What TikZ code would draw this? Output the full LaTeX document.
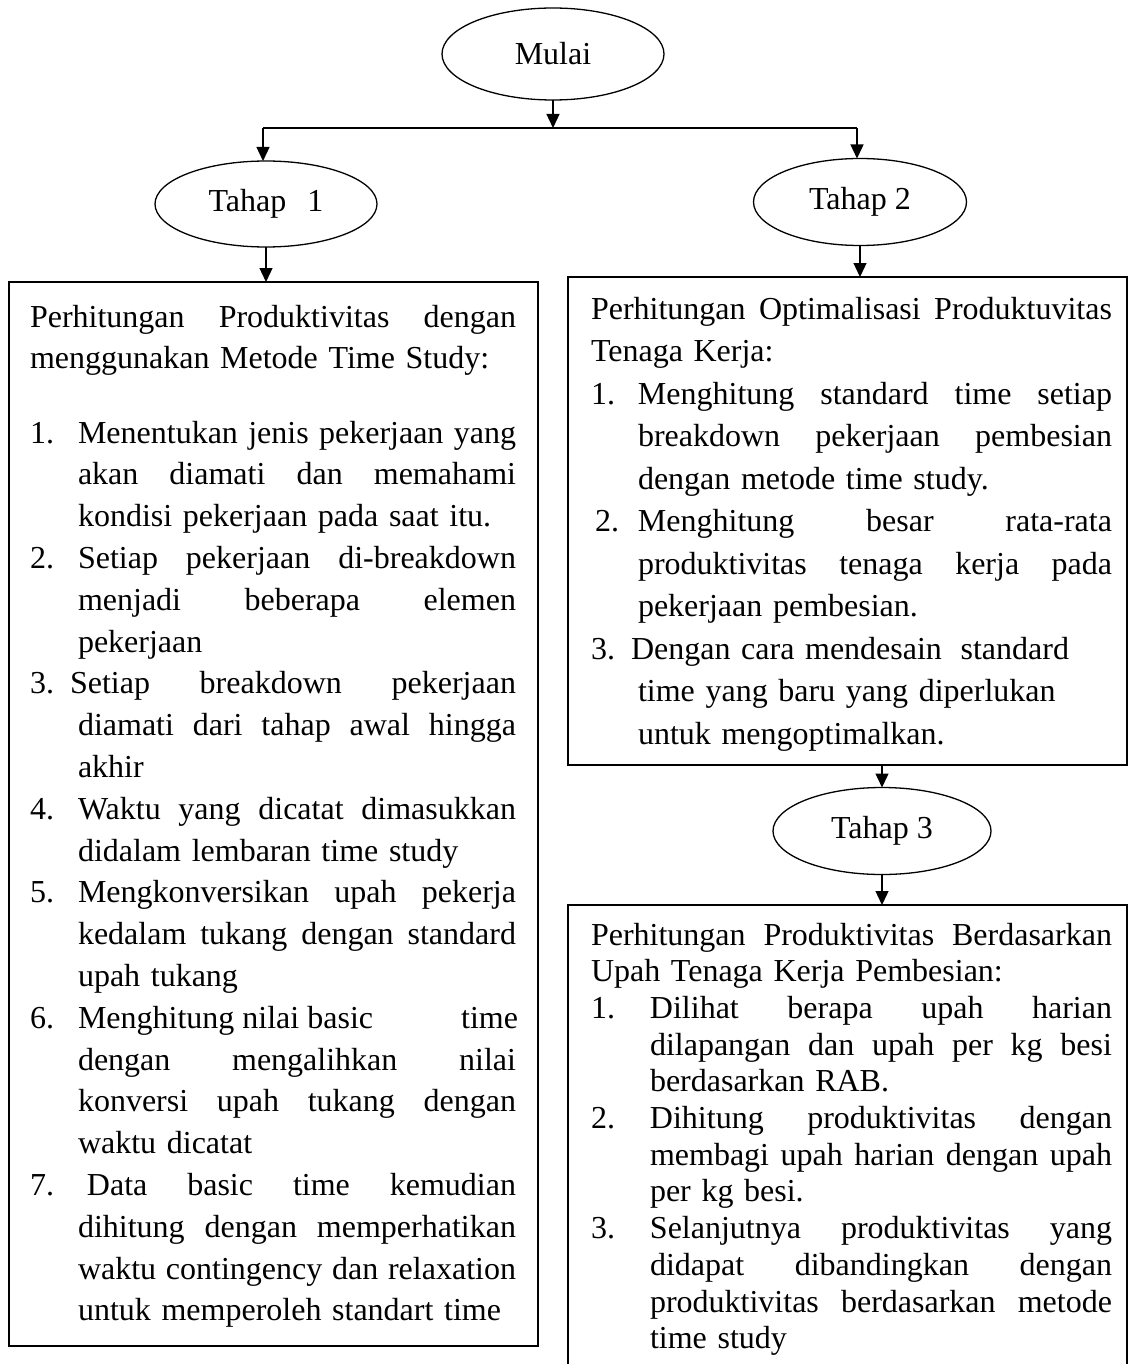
\documentclass[tikz,border=0pt]{standalone}
\usepackage{fontspec}
\setmainfont{Liberation Serif}
\usetikzlibrary{arrows.meta,shapes.geometric,fit,calc}

% justified / left lines, with and without a list number
\newcommand\myHJ[1]{\hbox to \hsize{\spaceskip=0.25em plus 1fil\relax\rule{0pt}{24pt}#1}}
\newcommand\myHL[1]{\hbox to \hsize{\rule{0pt}{24pt}#1\hss}}
\newcommand\myIJ[3]{\hbox to \hsize{\rule{0pt}{24pt}\hbox to #1{#2\hss}\hbox to \dimexpr\hsize-#1\relax{\spaceskip=0.25em plus 1fil\relax #3}}}
\newcommand\myIL[3]{\hbox to \hsize{\rule{0pt}{24pt}\hbox to #1{#2\hss}#3\hss}}

\begin{document}
\begin{tikzpicture}[x=1pt,y=-1pt,
  every node/.style={inner sep=0pt, outer sep=0pt},
  oval/.style={draw, ellipse, line width=1.3pt, font=\fontsize{32}{38}\selectfont},
  boxshape/.style={draw, line width=1.4pt, rectangle},
  txt/.style={anchor=north west, align=left,
    execute at begin node={\parindent=0pt\parskip=0pt}},
  arr/.style={line width=1.3pt, -{Triangle[length=14pt,width=13pt]}},
  plain/.style={line width=1.3pt}]
\useasboundingbox (0,0) rectangle (1135,1364);
\clip (0,0) rectangle (1135,1364);

% ellipses
\node[oval, minimum width=222pt, minimum height=92pt] (mulai) at (553,54) {Mulai};
\node[oval, minimum width=222pt, minimum height=86pt] (t1) at (266,204) {Tahap\hspace{21pt}1};
\node[oval, minimum width=213pt, minimum height=87pt] (t2) at (860,202) {Tahap 2};
\node[oval, minimum width=218pt, minimum height=87pt] (t3) at (882,831) {Tahap 3};

% boxes
\node[boxshape, fit={(9,282)(538,1346)}] (b1) {};
\node[boxshape, fit={(568,277)(1127,765)}] (b2) {};
\node[boxshape, fit={(568,905)(1127,1420)}] (b3) {};

% connectors
\coordinate (split) at (553,128);
\coordinate (le) at (263,128);
\coordinate (re) at (857,128);
\draw[arr] (mulai.south) -- (split);
\draw[plain] (le) -- (re);
\draw[arr] (le) -- (le |- t1.north);
\draw[arr] (re) -- (re |- t2.north);
\draw[arr] (t1.south) -- (t1.south |- b1.north);
\draw[arr] (t2.south) -- (t2.south |- b2.north);
\draw[arr] (t3.north |- b2.south) -- (t3.north);
\draw[arr] (t3.south) -- (t3.south |- b3.north);

% text of box 1
\node[txt, text width=486pt, font=\fontsize{32}{41.8}\selectfont] (x1) at (30,303) {%
\myHJ{Perhitungan Produktivitas dengan}
\myHL{menggunakan Metode Time Study:}
\par\vskip 32.4pt\relax
\myIJ{48pt}{1.}{Menentukan jenis pekerjaan yang}
\myIJ{48pt}{}{akan diamati dan memahami}
\myIL{48pt}{}{kondisi pekerjaan pada saat itu.}
\myIJ{48pt}{2.}{Setiap pekerjaan di-breakdown}
\myIJ{48pt}{}{menjadi beberapa elemen}
\myIL{48pt}{}{pekerjaan}
\myIJ{40pt}{3.}{Setiap breakdown pekerjaan}
\myIJ{48pt}{}{diamati dari tahap awal hingga}
\myIL{48pt}{}{akhir}
\myIJ{48pt}{4.}{Waktu yang dicatat dimasukkan}
\myIL{48pt}{}{didalam lembaran time study}
\myIJ{48pt}{5.}{Mengkonversikan upah pekerja}
\myIJ{48pt}{}{kedalam tukang dengan standard}
\myIL{48pt}{}{upah tukang}
\myIJ{48pt}{6.}{Menghitung nilai basic\hspace{80pt} time}
\myIJ{48pt}{}{dengan mengalihkan nilai}
\myIJ{48pt}{}{konversi upah tukang dengan}
\myIL{48pt}{}{waktu dicatat}
\myIJ{57pt}{7.}{Data basic time kemudian}
\myIJ{48pt}{}{dihitung dengan memperhatikan}
\myIJ{48pt}{}{waktu contingency dan relaxation}
\myIL{48pt}{}{untuk memperoleh standart time}};

% text of box 2
\node[txt, text width=521pt, font=\fontsize{32}{42.5}\selectfont] (x2) at (591,295) {%
\myHJ{Perhitungan Optimalisasi Produktuvitas}
\myHL{Tenaga Kerja:}
\myIJ{47pt}{1.}{Menghitung standard time setiap}
\myIJ{47pt}{}{breakdown pekerjaan pembesian}
\myIL{47pt}{}{dengan metode time study.}
\myIJ{47pt}{\hspace{4pt}2.}{Menghitung besar rata-rata}
\myIJ{47pt}{}{produktivitas tenaga kerja pada}
\myIL{47pt}{}{pekerjaan pembesian.}
\myIL{40pt}{3.}{Dengan cara mendesain\hspace{8pt} standard}
\myIL{47pt}{}{time yang baru yang diperlukan}
\myIL{47pt}{}{untuk mengoptimalkan.}};

% text of box 3
\node[txt, text width=521pt, font=\fontsize{32}{36.7}\selectfont] (x3) at (591,921) {%
\myHJ{Perhitungan Produktivitas Berdasarkan}
\myHL{Upah Tenaga Kerja Pembesian:}
\myIJ{59pt}{1.}{Dilihat berapa upah harian}
\myIJ{59pt}{}{dilapangan dan upah per kg besi}
\myIL{59pt}{}{berdasarkan RAB.}
\myIJ{59pt}{2.}{Dihitung produktivitas dengan}
\myIJ{59pt}{}{membagi upah harian dengan upah}
\myIL{59pt}{}{per kg besi.}
\myIJ{59pt}{3.}{Selanjutnya produktivitas yang}
\myIJ{59pt}{}{didapat dibandingkan dengan}
\myIJ{59pt}{}{produktivitas berdasarkan metode}
\myIL{59pt}{}{time study}};
\end{tikzpicture}
\end{document}
